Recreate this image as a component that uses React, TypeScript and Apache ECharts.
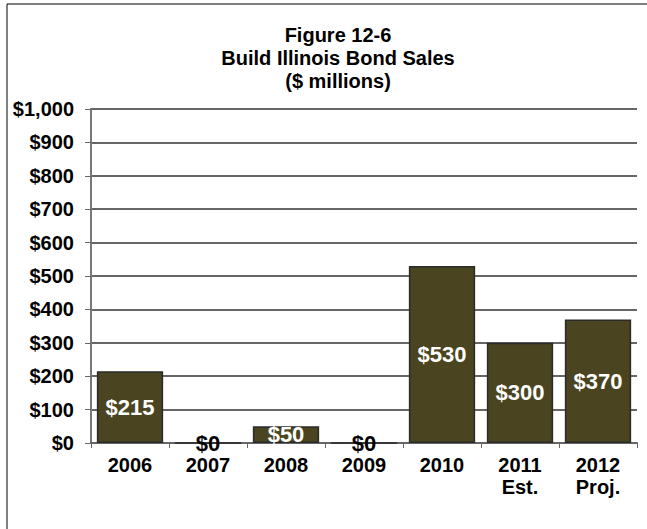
import React, { useEffect, useRef } from "react";
import * as echarts from "echarts";

const categories = ["2006", "2007", "2008", "2009", "2010", "2011\nEst.", "2012\nProj."];
const values = [215, 0, 50, 0, 530, 300, 370];
const yTicks = [0, 100, 200, 300, 400, 500, 600, 700, 800, 900, 1000];

const FONT = "'Liberation Sans', Arial, sans-serif";

export default function App() {
  const ref = useRef<HTMLDivElement>(null);
  useEffect(() => {
    const chart = echarts.init(ref.current!, null, { renderer: "svg" });
    chart.setOption({
      animation: false,
      backgroundColor: "#ffffff",
      title: {
        text: "Figure 12-6\nBuild Illinois Bond Sales\n($ millions)",
        left: 333,
        textAlign: "center",
        top: 18,
        textStyle: {
          fontFamily: FONT,
          fontWeight: "bold",
          fontSize: 20,
          lineHeight: 23,
          color: "#000",
        },
      },
      graphic: [
        { type: "line", shape: { x1: 7, y1: 4, x2: 647, y2: 4 }, style: { stroke: "#000", lineWidth: 1 } },
        { type: "line", shape: { x1: 7, y1: 4, x2: 7, y2: 529 }, style: { stroke: "#000", lineWidth: 1 } },
      ],
      grid: { left: 91, right: 10, top: 109, bottom: 86, containLabel: false },
      xAxis: {
        type: "category",
        data: categories,
        axisLine: { show: true, lineStyle: { color: "#666", width: 2 } },
        axisTick: { show: true, alignWithLabel: false, length: 5, lineStyle: { color: "#666" } },
        axisLabel: {
          fontFamily: FONT,
          fontWeight: "bold",
          fontSize: 20,
          color: "#000",
          lineHeight: 22,
          margin: 11,
          interval: 0,
        },
      },
      yAxis: {
        type: "value",
        min: 0,
        max: 1000,
        interval: 100,
        axisLine: { show: true, lineStyle: { color: "#777", width: 2 } },
        axisTick: { show: true, length: 6, inside: false, lineStyle: { color: "#666" } },
        splitLine: { show: true, lineStyle: { color: "#333", width: 1.5 } },
        axisLabel: {
          fontFamily: FONT,
          fontWeight: "bold",
          fontSize: 20,
          color: "#000",
          margin: 17,
          formatter: (v: number) => {
            if (!yTicks.includes(v)) return "";
            return "$" + v.toLocaleString("en-US");
          },
        },
      },
      series: [
        {
          type: "bar",
          data: values.map((v) => ({
            value: v,
            label: v === 0 ? { color: "#000" } : undefined,
          })),
          barCategoryGap: "15%",
          itemStyle: { color: "#4a4520", borderColor: "#2a2a2a", borderWidth: 1.5 },
          label: {
            show: true,
            position: "inside",
            fontFamily: FONT,
            fontWeight: "bold",
            fontSize: 22,
            color: "#ffffff",
            formatter: (p: any) => "$" + p.value,
          },
        },
      ],
    });
    return () => chart.dispose();
  }, []);
  return <div ref={ref} style={{ width: 647, height: 529, position: "absolute", left: 0, top: 0 }} />;
}
